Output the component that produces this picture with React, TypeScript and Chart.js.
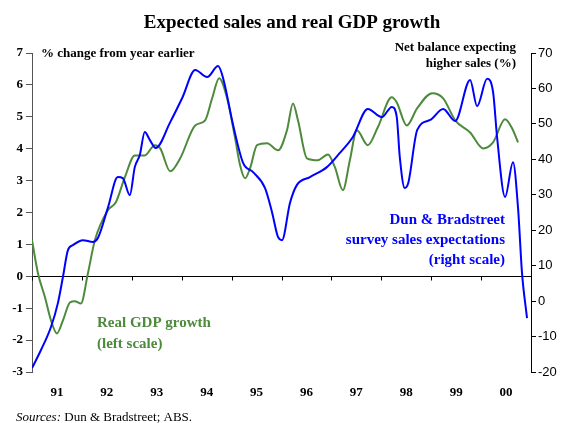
import { useEffect, useRef } from "react";
import { Chart, registerables } from "chart.js";

Chart.register(...registerables);

// ---------- data ----------
const yearLabels = ["91", "92", "93", "94", "95", "96", "97", "98", "99", "00"];
const yearStarts = [1991, 1992, 1993, 1994, 1995, 1996, 1997, 1998, 1999, 2000, 2001];

// Real GDP growth, % change from year earlier (left scale)
const gdpDates = [
  1991.0, 1991.12, 1991.26, 1991.38, 1991.5, 1991.62, 1991.76, 1991.86, 1991.98, 1992.12,
  1992.26, 1992.52, 1992.68, 1992.86, 1993.06, 1993.26, 1993.46, 1993.57, 1993.77, 1993.97,
  1994.27, 1994.47, 1994.61, 1994.75, 1994.91, 1995.07, 1995.17, 1995.27, 1995.37, 1995.51,
  1995.71, 1995.93, 1996.11, 1996.23, 1996.33, 1996.51, 1996.73, 1996.93, 1997.07, 1997.23,
  1997.37, 1997.51, 1997.73, 1997.93, 1998.21, 1998.31, 1998.51, 1998.72, 1999.02, 1999.24,
  1999.48, 1999.78, 2000.04, 2000.24, 2000.48, 2000.62, 2000.74,
];
const gdpValues = [
  1.13, 0.09, -0.66, -1.38, -1.79, -1.38, -0.82, -0.78, -0.85, 0.09,
  1.13, 2.07, 2.32, 3.1, 3.79, 3.79, 4.11, 4.01, 3.29, 3.7,
  4.73, 4.89, 5.58, 6.21, 5.58, 4.33, 3.48, 3.07, 3.39, 4.11,
  4.17, 3.95, 4.58, 5.42, 4.89, 3.7, 3.64, 3.82, 3.42, 2.7,
  3.64, 4.58, 4.11, 4.67, 5.61, 5.45, 4.73, 5.27, 5.74, 5.58,
  4.89, 4.51, 4.01, 4.2, 4.92, 4.64, 4.2,
];

// Dun & Bradstreet sales expectations, net balance % (right scale)
const dbDates = [
  1991.0, 1991.18, 1991.38, 1991.52, 1991.62, 1991.72, 1991.82, 1992.02, 1992.22, 1992.32,
  1992.52, 1992.72, 1992.82, 1992.96, 1993.06, 1993.16, 1993.26, 1993.36, 1993.48, 1993.77,
  1994.01, 1994.27, 1994.51, 1994.73, 1994.83, 1995.03, 1995.23, 1995.43, 1995.67, 1995.81,
  1995.93, 1996.01, 1996.17, 1996.31, 1996.57, 1996.91, 1997.17, 1997.43, 1997.73, 1998.01,
  1998.21, 1998.31, 1998.37, 1998.47, 1998.54, 1998.72, 1998.98, 1999.24, 1999.48, 1999.78,
  1999.92, 2000.12, 2000.24, 2000.32, 2000.48, 2000.64, 2000.74, 2000.82, 2000.92,
];
const dbValues = [
  -18.9, -13.8, -7.3, -0.5, 6.8, 14.4, 15.8, 17.2, 16.7, 17.8,
  26.3, 35.0, 34.7, 29.9, 37.8, 41.2, 47.7, 45.5, 43.2, 50.5,
  57.3, 65.2, 63.2, 66.3, 62.9, 49.7, 39.0, 36.4, 31.9, 25.1,
  18.1, 17.2, 27.7, 32.8, 35.0, 37.8, 41.8, 46.3, 54.2, 51.9,
  54.8, 51.9, 40.7, 31.9, 33.3, 48.3, 51.1, 54.2, 50.8, 62.4,
  55.0, 62.7, 59.0, 46.3, 29.4, 39.2, 26.3, 7.9, -4.8,
];

const titleText = "Expected sales and real GDP growth";
const leftUnitText = "% change from year earlier";
const rightUnitLines = ["Net balance expecting", "higher sales (%)"];
const dbLabelLines = ["Dun & Bradstreet", "survey sales expectations", "(right scale)"];
const gdpLabelLines = ["Real GDP growth", "(left scale)"];
const sourcesLabel = "Sources:";
const sourcesText = " Dun & Bradstreet; ABS.";

const SERIF = "'Liberation Serif', 'Times New Roman', serif";
const SANS = "'Liberation Sans', Arial, sans-serif";
const GREEN = "#4e8a3c";
const BLUE = "#0000ff";

const overlay = {
  id: "overlay",
  afterDraw(chart: any) {
    const ctx = chart.ctx as CanvasRenderingContext2D;
    const xs = chart.scales.x;
    const yL = chart.scales.yL;
    const y0 = Math.round(yL.getPixelForValue(0)) + 0.5;
    ctx.save();
    ctx.strokeStyle = "#000";
    ctx.lineWidth = 1;
    for (const yr of yearStarts) {
      const px = Math.round(xs.getPixelForValue(yr)) + 0.5;
      ctx.beginPath();
      ctx.moveTo(px, y0);
      ctx.lineTo(px, y0 + 4);
      ctx.stroke();
    }

    ctx.fillStyle = "#000";
    ctx.textBaseline = "alphabetic";
    ctx.font = `bold 19px ${SERIF}`;
    ctx.textAlign = "center";
    ctx.fillText(titleText, 292, 28);

    ctx.font = `bold 13px ${SERIF}`;
    ctx.textAlign = "left";
    ctx.fillText(leftUnitText, 41, 57);
    ctx.textAlign = "right";
    ctx.fillText(rightUnitLines[0], 516, 51);
    ctx.fillText(rightUnitLines[1], 516, 67);

    ctx.font = `bold 15px ${SERIF}`;
    ctx.fillStyle = BLUE;
    ctx.textAlign = "right";
    dbLabelLines.forEach((t, i) => ctx.fillText(t, 505, 224 + i * 20));

    ctx.fillStyle = GREEN;
    ctx.textAlign = "left";
    gdpLabelLines.forEach((t, i) => ctx.fillText(t, 97, 327 + i * 21));

    ctx.fillStyle = "#000";
    ctx.font = `italic 13px ${SERIF}`;
    ctx.fillText(sourcesLabel, 16, 421);
    const w = ctx.measureText(sourcesLabel).width;
    ctx.font = `13px ${SERIF}`;
    ctx.fillText(sourcesText, 16 + w, 421);
    ctx.restore();
  },
};

export default function App() {
  const ref = useRef<HTMLCanvasElement | null>(null);
  useEffect(() => {
    if (!ref.current) return;
    const chart = new Chart(ref.current, {
      type: "line",
      data: {
        datasets: [
          {
            label: "Dun & Bradstreet",
            data: dbDates.map((d, i) => ({ x: d, y: dbValues[i] })),
            borderColor: BLUE,
            borderWidth: 2,
            pointRadius: 0,
            cubicInterpolationMode: "monotone",
            yAxisID: "yR",
          },
          {
            label: "Real GDP growth",
            data: gdpDates.map((d, i) => ({ x: d, y: gdpValues[i] })),
            borderColor: GREEN,
            borderWidth: 2,
            pointRadius: 0,
            cubicInterpolationMode: "monotone",
            yAxisID: "yL",
          },
        ],
      },
      options: {
        responsive: false,
        animation: false,
        layout: { padding: { top: 53, left: 0, right: 0, bottom: 0 } },
        plugins: { legend: { display: false }, tooltip: { enabled: false }, title: { display: false } },
        scales: {
          x: {
            type: "linear",
            min: yearStarts[0],
            max: yearStarts[yearStarts.length - 1],
            afterBuildTicks: (s: any) => {
              s.ticks = yearLabels.map((_, i) => ({ value: yearStarts[i] + 0.5 }));
            },
            afterFit: (s: any) => {
              s.height = 51;
            },
            grid: { display: false, drawTicks: false },
            border: { display: false },
            ticks: {
              autoSkip: false,
              maxRotation: 0,
              padding: 13,
              color: "#000",
              font: { family: SERIF, size: 13, weight: "bold" },
              callback: (_v: any, i: number) => yearLabels[i],
            },
          },
          yL: {
            type: "linear",
            position: "left",
            min: -3,
            max: 7,
            afterFit: (s: any) => {
              s.width = 32;
            },
            border: { display: true, color: "#555", width: 1 },
            grid: {
              drawOnChartArea: true,
              color: (c: any) => (c.tick && c.tick.value === 0 ? "#000" : "rgba(0,0,0,0)"),
              tickColor: "#555",
              tickLength: 6,
            },
            ticks: {
              stepSize: 1,
              padding: 3,
              color: "#000",
              font: { family: SERIF, size: 13, weight: "bold" },
            },
          },
          yR: {
            type: "linear",
            position: "right",
            min: -20,
            max: 70,
            afterFit: (s: any) => {
              s.width = 31;
            },
            border: { display: true, color: "#000", width: 1 },
            grid: { drawOnChartArea: false, tickColor: "#000", tickLength: 5 },
            ticks: {
              stepSize: 10,
              padding: 2,
              color: "#000",
              font: { family: SANS, size: 13 },
            },
          },
        },
      },
      plugins: [overlay],
    } as any);
    return () => chart.destroy();
  }, []);

  return (
    <div style={{ position: "absolute", left: 0, top: 0, width: 562, height: 423, background: "#fff" }}>
      <canvas ref={ref} width={562} height={423} style={{ display: "block" }} />
    </div>
  );
}
